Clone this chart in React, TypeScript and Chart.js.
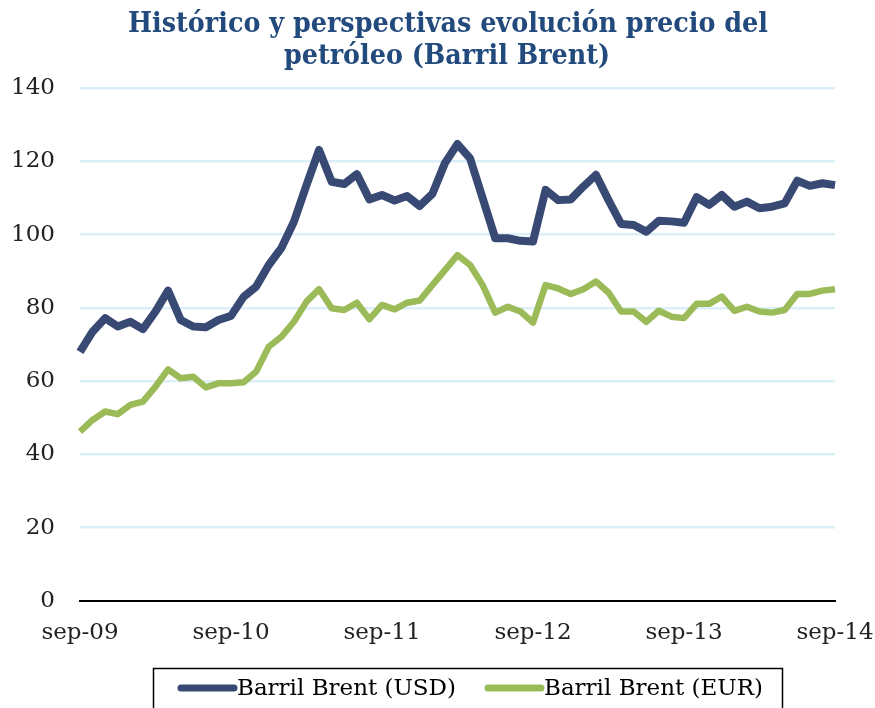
import React, { useEffect, useRef } from "react";
import { Chart, registerables } from "chart.js";

Chart.register(...registerables);

const MONTHS = ["ene", "feb", "mar", "abr", "may", "jun", "jul", "ago", "sep", "oct", "nov", "dic"];
const labels: string[] = [];
for (let i = 0; i < 61; i++) {
  const m = (8 + i) % 12;
  const y = 9 + Math.floor((8 + i) / 12);
  labels.push(`${MONTHS[m]}-${String(y).padStart(2, "0")}`);
}

const usd = [
  68.0, 73.5, 77.2, 74.9, 76.2, 74.2, 79.0, 84.7, 76.7, 74.9, 74.7, 76.7, 77.8,
  83.0, 85.8, 91.7, 96.3, 103.5, 113.5, 123.1, 114.4, 113.8, 116.5, 109.6, 110.8,
  109.3, 110.5, 107.8, 111.1, 119.5, 124.7, 120.8, 109.9, 99.0, 99.0, 98.3, 98.1,
  112.2, 109.4, 109.6, 113.1, 116.3, 109.4, 102.9, 102.6, 100.8, 103.8, 103.6,
  103.2, 110.2, 108.1, 110.8, 107.6, 109.0, 107.2, 107.6, 108.5, 114.7, 113.3,
  114.0, 113.5,
];
const eur = [
  46.2, 49.4, 51.7, 51.0, 53.5, 54.4, 58.5, 63.2, 60.8, 61.2, 58.3, 59.4, 59.4,
  59.7, 62.6, 69.4, 72.1, 76.2, 81.7, 85.1, 79.9, 79.4, 81.4, 76.9, 80.8, 79.6,
  81.4, 82.0, 86.2, 90.3, 94.4, 91.7, 86.2, 78.7, 80.3, 79.0, 76.0, 86.2, 85.3,
  83.8, 85.1, 87.2, 84.2, 79.0, 79.0, 76.2, 79.2, 77.6, 77.2, 81.1, 81.1, 83.1,
  79.2, 80.3, 79.0, 78.7, 79.4, 83.8, 83.8, 84.7, 85.1,
];
const xTickLabels = ["sep-09", "sep-10", "sep-11", "sep-12", "sep-13", "sep-14"];
const seriesNames = ["Barril Brent (USD)", "Barril Brent (EUR)"];
const titleLines = ["Histórico y perspectivas evolución precio del", "petróleo (Barril Brent)"];

const FONT = "'DejaVu Serif', serif";

export default function App() {
  const ref = useRef<HTMLCanvasElement>(null);
  useEffect(() => {
    document.body.style.margin = "0";
    const drawScaled = (c: CanvasRenderingContext2D, text: string, cx: number, y: number, targetW: number) => {
      const w = c.measureText(text).width;
      const s = targetW / w;
      c.save();
      c.translate(cx, y);
      c.scale(s, 1);
      c.fillText(text, 0, 0);
      c.restore();
    };
    const titlePlugin = {
      id: "customTitleLegend",
      afterDraw(chart: any) {
        const c = chart.ctx;
        c.save();
        c.fillStyle = "#234A7D";
        c.font = `bold 27px ${FONT}`;
        c.textAlign = "center";
        c.textBaseline = "alphabetic";
        drawScaled(c, titleLines[0], 448, 32, 640);
        drawScaled(c, titleLines[1], 447, 64, 326);
        // legend
        c.strokeStyle = "#000";
        c.lineWidth = 1.5;
        c.strokeRect(153.5, 668.5, 629, 60);
        c.font = `23px ${FONT}`;
        c.textAlign = "left";
        c.textBaseline = "middle";
        const items = [
          { x: 181, color: chart.data.datasets[0].borderColor, text: chart.data.datasets[0].label },
          { x: 488, color: chart.data.datasets[1].borderColor, text: chart.data.datasets[1].label },
        ];
        items.forEach((it) => {
          c.strokeStyle = it.color;
          c.lineWidth = 7;
          c.lineCap = "round";
          c.beginPath();
          c.moveTo(it.x, 688);
          c.lineTo(it.x + 53, 688);
          c.stroke();
          c.fillStyle = "#000";
          c.fillText(it.text, it.x + 56, 689);
        });
        c.restore();
      },
    };
    const chart = new Chart(ref.current!, {
      type: "line",
      data: {
        labels,
        datasets: [
          {
            label: seriesNames[0],
            data: usd,
            borderColor: "#384A74",
            backgroundColor: "#384A74",
            borderWidth: 8,
            pointRadius: 0,
            tension: 0,
            borderJoinStyle: "round",
            clip: false as any,
          },
          {
            label: seriesNames[1],
            data: eur,
            borderColor: "#9BBB59",
            backgroundColor: "#9BBB59",
            borderWidth: 6.5,
            pointRadius: 0,
            tension: 0,
            borderJoinStyle: "round",
            clip: false as any,
          },
        ],
      },
      options: {
        animation: false,
        responsive: false,
        layout: { padding: { top: 88, right: 40, left: 0, bottom: 0 } },
        plugins: { legend: { display: false }, title: { display: false }, tooltip: { enabled: false } },
        scales: {
          x: {
            offset: false,
            grid: { display: false, drawTicks: false },
            border: { display: true, color: "#000", width: 2 },
            ticks: {
              autoSkip: false,
              maxRotation: 0,
              padding: 18,
              color: "#222",
              font: { family: FONT, size: 23 },
              callback: (_v: any, i: number) => (i % 12 === 0 ? xTickLabels[i / 12] : ""),
            },
            afterFit: (s: any) => {
              s.height = 107;
              s.paddingLeft = 0;
              s.paddingRight = 0;
            },
          },
          y: {
            min: 0,
            max: 140,
            ticks: { stepSize: 20, padding: 25, color: "#222", font: { family: FONT, size: 23 } },
            grid: {
              drawTicks: false,
              color: (ctx: any) => (ctx.tick && ctx.tick.value === 0 ? "#000" : "#DCEEF8"),
              lineWidth: (ctx: any) => (ctx.tick && ctx.tick.value === 0 ? 2 : 2.5),
            },
            border: { display: false },
            afterFit: (s: any) => {
              s.width = 80;
              s.paddingTop = 0;
              s.paddingBottom = 0;
            },
          },
        },
      },
      plugins: [titlePlugin],
    });
    return () => chart.destroy();
  }, []);
  return <canvas ref={ref} width={875} height={708} style={{ display: "block" }} />;
}
